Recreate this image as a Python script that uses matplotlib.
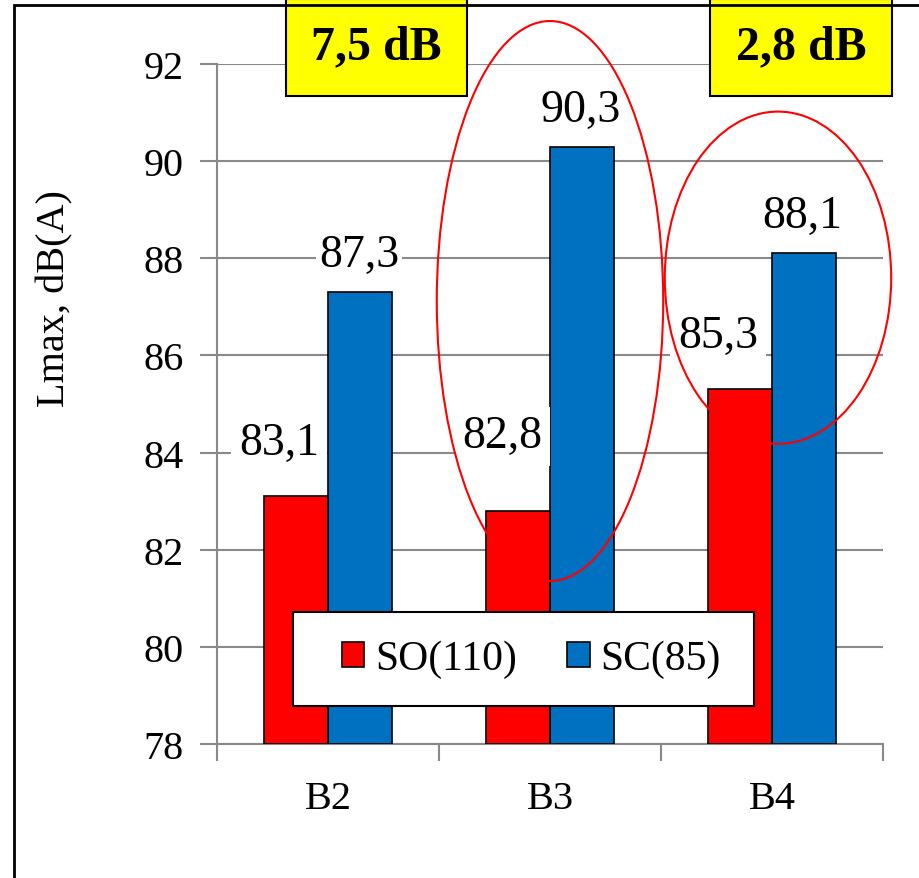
import matplotlib
matplotlib.use("Agg")
import matplotlib.pyplot as plt
from matplotlib.patches import Rectangle, Ellipse

# Data
categories = ["B2", "B3", "B4"]
so_values = [83.1, 82.8, 85.3]
sc_values = [87.3, 90.3, 88.1]
series_names = ["SO(110)", "SC(85)"]
diff_labels = ["7,5 dB", "2,8 dB"]
y_ticks = [78, 80, 82, 84, 86, 88, 90, 92]

RED = "#FF0000"
BLUE = "#0070C0"
GRID = "#898989"
W, H = 920, 879
DPI = 100

plt.rcParams["font.family"] = ["Liberation Serif", "DejaVu Serif"]

fig = plt.figure(figsize=(W / DPI, H / DPI), dpi=DPI)
ax = fig.add_axes([217 / W, 1 - 745 / H, (883 - 217) / W, (745 - 65) / H])

bw = 0.288
x = list(range(len(categories)))
so_x = [i - bw / 2 for i in x]
sc_x = [i + bw / 2 for i in x]
ax.bar(so_x, [v - 78 for v in so_values], bottom=78, width=bw, color=RED,
       edgecolor="black", linewidth=1.2, label=series_names[0], zorder=3)
ax.bar(sc_x, [v - 78 for v in sc_values], bottom=78, width=bw, color=BLUE,
       edgecolor="black", linewidth=1.2, label=series_names[1], zorder=3)

ax.set_xlim(-0.5, 2.5)
ax.set_ylim(78, 92)
ax.set_yticks(y_ticks)
ax.set_yticklabels([str(t) for t in y_ticks], fontsize=29)
ax.set_xticks(x)
ax.set_xticklabels(categories, fontsize=29)
ax.set_xticks([-0.5, 0.5, 1.5, 2.5], minor=True)
ax.tick_params(axis="x", which="major", length=0, pad=26)
ax.tick_params(axis="x", which="minor", length=12, width=1.5, color=GRID)
ax.tick_params(axis="y", length=12, width=1.5, color=GRID, pad=12)
ax.grid(axis="y", color=GRID, linewidth=1.5, zorder=0)
ax.set_axisbelow(True)
for side in ["top", "right"]:
    ax.spines[side].set_visible(False)
for side in ["left", "bottom"]:
    ax.spines[side].set_color(GRID)
    ax.spines[side].set_linewidth(1.5)

# Value labels
so_offsets = [(-0.221, 1.10), (-0.216, 1.54), (-0.243, 1.10)]
sc_offsets = [(0.140, 0.77), (0.140, 0.75), (0.135, 0.77)]
for i in x:
    dx, dy = so_offsets[i]
    ax.text(i + dx, so_values[i] + dy, f"{so_values[i]:.1f}".replace(".", ","),
            ha="center", va="center", fontsize=33, zorder=5,
            bbox=dict(facecolor="white", edgecolor="none", pad=6))
    dx, dy = sc_offsets[i]
    ax.text(i + dx, sc_values[i] + dy, f"{sc_values[i]:.1f}".replace(".", ","),
            ha="center", va="center", fontsize=33, zorder=5,
            bbox=dict(facecolor="white", edgecolor="none", pad=2))

# Highlight ellipses
ax.add_patch(Ellipse((1.0, 87.12), 1.02, 11.53, fill=False, edgecolor=RED,
                     linewidth=1.5, zorder=6, clip_on=False))
ax.add_patch(Ellipse((2.027, 87.6), 1.02, 6.84, fill=False, edgecolor=RED,
                     linewidth=1.5, zorder=6, clip_on=False))

# Legend: white box with black border, entries centred inside it
ax_w, ax_h = 666, 680
box = Rectangle(((293 - 217) / ax_w, (745 - 707) / ax_h), (754 - 293) / ax_w,
                (707 - 613) / ax_h, transform=ax.transAxes, facecolor="white",
                edgecolor="black", linewidth=1.5, zorder=7, clip_on=False)
ax.add_patch(box)
leg = ax.legend(loc="center", bbox_to_anchor=((531 - 217) / ax_w, (745 - 660) / ax_h),
                ncol=2, fontsize=30, frameon=False, handlelength=0.55,
                handleheight=0.55, handletextpad=0.25, columnspacing=1.2,
                borderaxespad=0, borderpad=0)
leg.set_zorder(8)

# Axis title
fig.text(55 / W, 1 - 299 / H, "Lmax, dB(A)", rotation=90, ha="center", va="center",
         fontsize=29)

# Difference boxes
for (x0, x1), txt in zip([(286, 467), (710, 892)], diff_labels):
    fig.patches.append(Rectangle((x0 / W, 1 - 97 / H), (x1 - x0) / W, (97 - 0) / H,
                                 transform=fig.transFigure, facecolor="#FFFF00",
                                 edgecolor="black", linewidth=1.5, zorder=8))
    fig.text((x0 + x1) / 2 / W, 1 - 47 / H, txt, ha="center", va="center",
             fontsize=34.5, fontweight="bold", zorder=9)

# Outer frame
fig.patches.append(Rectangle((14 / W, -0.05), 1.1, 1 - 6 / H + 0.05,
                             transform=fig.transFigure, fill=False,
                             edgecolor="black", linewidth=2, zorder=10))

fig.savefig("out.png", dpi=DPI)
